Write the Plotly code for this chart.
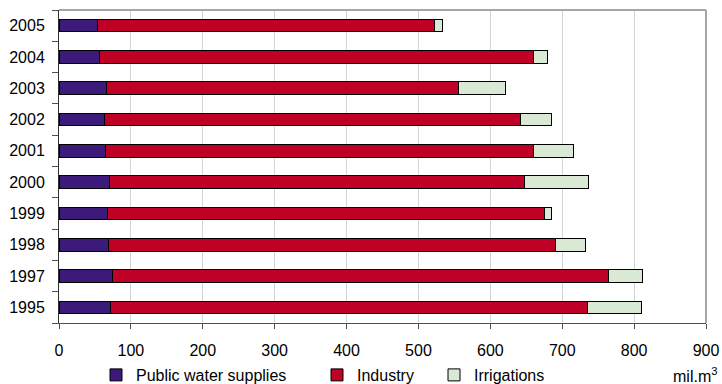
import plotly.graph_objects as go

# Water abstraction by use, mil. m3
years = ["1995", "1997", "1998", "1999", "2000", "2001", "2002", "2003", "2004", "2005"]
public_supply = [72, 74, 69, 67, 70, 65, 63, 66, 56, 54]
industry = [663, 690, 621, 608, 577, 595, 579, 490, 604, 469]
irrigation = [75, 47, 43, 10, 90, 56, 43, 65, 19, 11]

x_ticks = [0, 100, 200, 300, 400, 500, 600, 700, 800, 900]

W, H = 722, 384
ML, MR, MT, MB = 59, 16, 10, 61
pw, ph = W - ML - MR, H - MT - MB


def px_x(v):
    return (v - ML) / pw


def px_y(v):
    return (H - MB - v) / ph


series = [
    ("Public water supplies", public_supply, "#3B1A7A", "legend"),
    ("Industry", industry, "#BF0027", "legend2"),
    ("Irrigations", irrigation, "#DAE8D6", "legend3"),
]

fig = go.Figure()
for name, vals, color, leg in series:
    fig.add_trace(go.Bar(
        y=years, x=vals, name=name, orientation="h",
        marker=dict(color=color, line=dict(color="#000000", width=1)),
        width=0.4, legend=leg, showlegend=True,
    ))

font = dict(family="Liberation Sans, Arial, sans-serif", size=16, color="#000000")
leg_common = dict(orientation="h", yref="container", yanchor="middle",
                  y=(H - 375) / H, xanchor="left",
                  font=font, bgcolor="rgba(0,0,0,0)", borderwidth=0)

fig.update_layout(
    width=W, height=H,
    margin=dict(l=ML, r=MR, t=MT, b=MB, autoexpand=False),
    barmode="stack",
    showlegend=True,
    plot_bgcolor="#FFFFFF", paper_bgcolor="#FFFFFF",
    font=font,
    legend=dict(x=px_x(96), **leg_common),
    legend2=dict(x=px_x(317), **leg_common),
    legend3=dict(x=px_x(434), **leg_common),
    xaxis=dict(
        range=[0, 900], tickvals=x_ticks, ticktext=[str(t) for t in x_ticks],
        showgrid=True, gridcolor="#D4D4D4", gridwidth=1,
        showline=True, linecolor="#505050", linewidth=1,
        ticks="outside", ticklen=5, tickcolor="#505050",
        ticklabelstandoff=8,
        zeroline=False, tickfont=font, automargin=False,
    ),
    yaxis=dict(
        type="category", categoryorder="array", categoryarray=years,
        range=[-0.5, 9.5],
        showgrid=False, showline=True, linecolor="#303030", linewidth=1,
        ticks="outside", ticklen=6, tickcolor="#505050", tickson="boundaries",
        ticklabelstandoff=10,
        tickfont=font, automargin=False,
    ),
    shapes=[
        dict(type="line", xref="paper", yref="paper", x0=0, x1=1, y0=1, y1=1,
             line=dict(color="#A6A6A6", width=2)),
        dict(type="line", xref="paper", yref="paper", x0=1, x1=1, y0=0, y1=1,
             line=dict(color="#A6A6A6", width=2)),
    ],
    annotations=[
        dict(text="mil.m<sup>3</sup>", xref="paper", yref="paper",
             x=px_x(719), y=px_y(375), xanchor="right", yanchor="middle",
             showarrow=False, font=font),
    ],
)

fig.write_html("out.html")
